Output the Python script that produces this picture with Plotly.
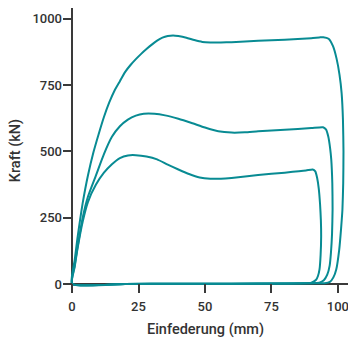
import plotly.graph_objects as go

# Load-deflection loops (Einfederung in mm, Kraft in kN), one per loop:
# loading branch, unloading drop at the end of the stroke, return along the base.
x_high = [0, 1, 2, 3, 4, 6, 8, 10, 12, 14, 16, 18, 20, 22, 24, 26, 28, 30, 32, 34, 36, 38, 40,
          43, 46, 49, 52, 56, 60, 70, 80, 90, 93, 94.5, 96.5, 98.2, 99.5, 100.6, 101.4, 101.9,
          102.1, 102.0, 101.7, 101.2, 100.5, 99.4, 98.3, 97.0, 95, 90, 80, 60, 40, 20, 0]
y_high = [0, 90, 170, 240, 305, 410, 495, 565, 630, 685, 730, 765, 800, 826, 848, 868, 886, 903,
          918, 929, 935, 937, 935, 929, 920, 913, 911, 911, 912, 917, 921, 927, 930, 931, 925,
          896, 850, 790, 720, 620, 500, 380, 280, 210, 130, 56, 25, 8, 3, 3, 2, 1, 1, 0, 0]

x_mid = [0, 1, 2, 4, 6, 9, 12, 15, 18, 21, 24, 27, 31, 35, 40, 45, 50, 55, 60, 65, 70, 80, 90,
         94.4, 95.5, 96.4, 97.1, 97.5, 97.9, 98.0, 97.8, 97.4, 96.9, 96.0, 94.7, 93, 90, 80, 60,
         40, 20, 0]
y_mid = [0, 70, 135, 250, 330, 410, 490, 555, 595, 620, 635, 642, 642, 636, 623, 607, 590, 576,
         571, 572, 576, 582, 588, 591, 583, 555, 510, 470, 380, 282, 190, 120, 69, 35, 14, 5, 3,
         2, 1, 1, 0, 0]

x_low = [0, 1, 2, 4, 6, 9, 12, 15, 18, 21, 24, 28, 32, 36, 40, 44, 48, 52, 56, 60, 70, 80, 88,
         90.5, 91.5, 92.2, 92.8, 93.3, 93.6, 93.7, 93.5, 93.1, 92.5, 91.8, 90, 80, 60, 40, 20, 0]
y_low = [0, 65, 130, 235, 310, 375, 420, 452, 475, 485, 486, 481, 470, 450, 432, 415, 402, 397,
         397, 400, 411, 420, 428, 432, 425, 400, 360, 300, 240, 180, 110, 56, 30, 16, 5, 2, 1,
         1, 0, 0]

x_ticks = [0, 25, 50, 75, 100]
y_ticks = [0, 250, 500, 750, 1000]

LINE = "#088b93"
AXIS = "#3a3a3a"

fig = go.Figure()
for xs, ys in [(x_high, y_high), (x_mid, y_mid), (x_low, y_low)]:
    fig.add_trace(go.Scatter(
        x=xs, y=ys, mode="lines",
        line=dict(color=LINE, width=2, shape="spline", smoothing=0.5),
        showlegend=False, hoverinfo="skip",
    ))

tick_font = dict(family="Roboto, Arial, sans-serif", size=13, color="#333333", weight=500)
title_font = dict(family="Roboto, Arial, sans-serif", size=14.5, color="#333333", weight=500)

fig.update_layout(
    width=348, height=340,
    margin=dict(l=63, r=0, t=8, b=47),
    paper_bgcolor="white", plot_bgcolor="white",
    xaxis=dict(
        range=[-3.4, 103.8], tickvals=x_ticks, ticks="inside", ticklen=9,
        tickwidth=1.5, tickcolor=AXIS, showgrid=False, showline=False,
        zeroline=True, zerolinecolor=AXIS, zerolinewidth=1.5,
        tickfont=tick_font, ticklabelstandoff=4, ticklabeloverflow="allow",
        title=dict(text="Einfederung (mm)", standoff=10, font=title_font),
        automargin=False,
    ),
    yaxis=dict(
        range=[-34, 1041], tickvals=y_ticks, ticks="inside", ticklen=9,
        tickwidth=1.5, tickcolor=AXIS, showgrid=False, showline=False,
        zeroline=True, zerolinecolor=AXIS, zerolinewidth=1.5,
        tickfont=tick_font,
        title=dict(text="Kraft (kN)", standoff=8, font=title_font),
        automargin=False,
    ),
)

fig.write_html("out.html")
